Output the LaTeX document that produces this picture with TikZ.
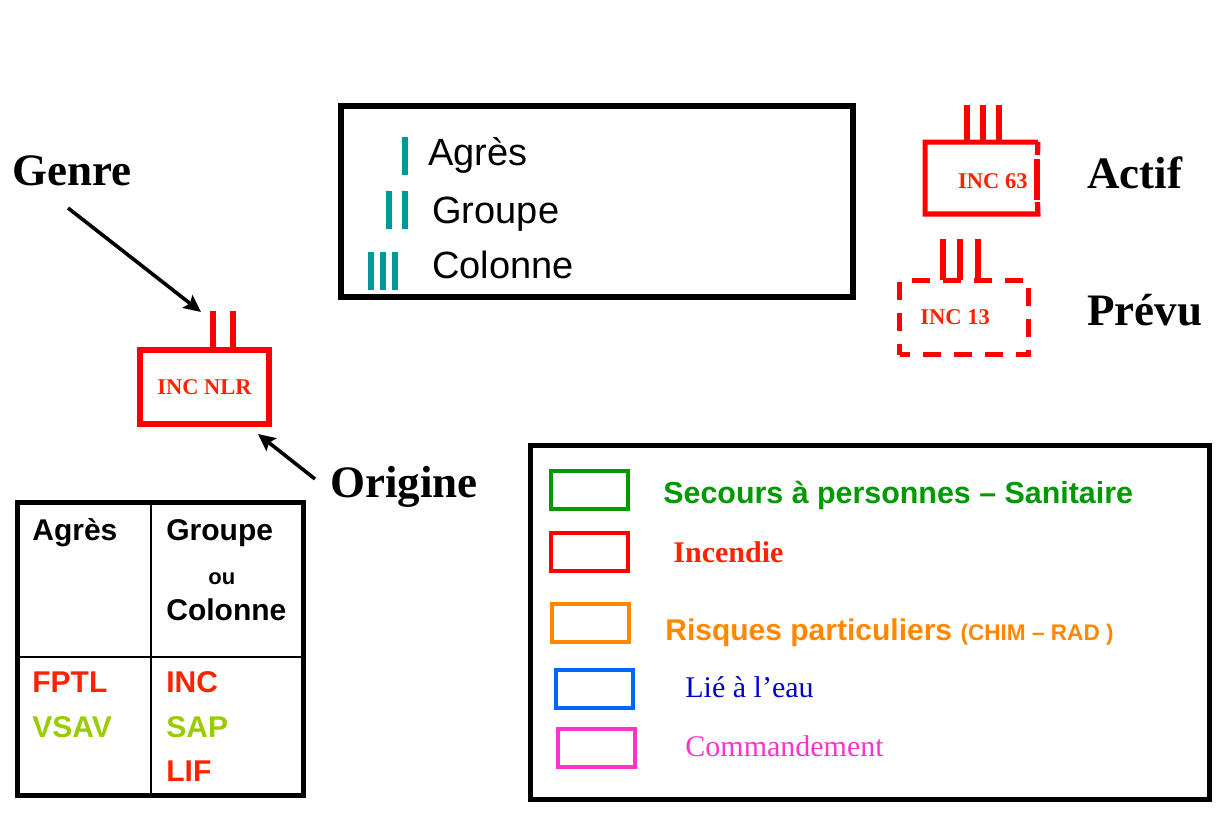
\documentclass[tikz,border=0pt]{standalone}
\usepackage{fontspec}
\setmainfont{Liberation Serif}
\setsansfont{Liberation Sans}
\usetikzlibrary{arrows.meta}
\definecolor{tealbar}{HTML}{009999}
\definecolor{incred}{HTML}{FF2200}
\definecolor{boxred}{HTML}{FF0000}
\definecolor{sapgreen}{HTML}{009900}
\definecolor{ygreen}{HTML}{99CC00}
\definecolor{orng}{HTML}{FF8800}
\definecolor{bluebox}{HTML}{0066FF}
\definecolor{bluetext}{HTML}{0000CC}
\definecolor{pinkc}{HTML}{FF33CC}
\begin{document}
\begin{tikzpicture}[x=0.5pt,y=-0.5pt,
  lbl/.style={inner sep=0pt, anchor=base west},
  bigword/.style={lbl, font=\bfseries\fontsize{22.5}{26}\selectfont},
  legtext/.style={lbl, font=\sffamily\fontsize{19}{22}\selectfont},
  tabtext/.style={lbl, font=\sffamily\bfseries\fontsize{15}{18}\selectfont},
  unitlabel/.style={inner sep=0pt, font=\bfseries\fontsize{11.25}{13}\selectfont, text=incred},
  tealstroke/.style={draw=tealbar, line width=2.8pt},
  redstroke/.style={draw=boxred, line width=2.8pt},
  frame/.style={draw=black, line width=2.6pt},
  pointer/.style={draw=black, line width=1.8pt, -{Stealth[length=8.5pt,width=8pt,inset=1.5pt]}},
  colbox/.style={line width=2pt, minimum width=38.5pt, minimum height=19pt, inner sep=0pt}
]
\useasboundingbox (0,0) rectangle (1228,815);
\fill[white] (0,0) rectangle (1228,815);

% ---- Legend of sizes ----
\node[frame, minimum width=256pt, minimum height=95.5pt, inner sep=0pt] (sizes) at (597,201.5) {};
\node[legtext] (tagres) at (428,165) {Agrès};
\node[legtext] (tgroupe) at (432,223) {Groupe};
\node[legtext] (tcolonne) at (432,278) {Colonne};
\draw[tealstroke] (405,137) -- (405,175);
\draw[tealstroke] (389,191) -- (389,229);
\draw[tealstroke] (405,191) -- (405,229);
\draw[tealstroke] (371,252) -- (371,290);
\draw[tealstroke] (383,252) -- (383,290);
\draw[tealstroke] (395,252) -- (395,290);

% ---- Example unit ----
\node[draw=boxred, line width=3pt, minimum width=64.5pt, minimum height=37pt, unitlabel] (nlr) at (204.5,387) {INC NLR};
\draw[redstroke, line width=3pt] (213,311) -- (213,350);
\draw[redstroke, line width=3pt] (233,311) -- (233,350);

\node[bigword] (genre) at (12,185) {Genre};
\node[bigword] (origine) at (330,497) {Origine};
\coordinate (gtail) at (68,208);
\coordinate (gtip) at (201,312);
\coordinate (otail) at (315,479);
\coordinate (otip) at (258,434);
\draw[pointer] (gtail) -- (gtip);
\draw[pointer] (otail) -- (otip);

% ---- Actif ----
\node[minimum width=56pt, minimum height=35.5pt, inner sep=0pt] (actif) at (981.5,178) {};
\draw[redstroke, line width=2.6pt] (actif.north east) -- (actif.north west) -- (actif.south west) -- (actif.south east) -- (1037.5,202);
\draw[redstroke, line width=2.6pt] (1037,199.5) -- (1037,159);
\draw[redstroke, line width=2.6pt] (1037.5,155) -- (actif.north east);
\node[unitlabel, anchor=base east] (inc63) at (1028,188) {INC 63};
\draw[redstroke] (967,105) -- (967,141);
\draw[redstroke] (983,105) -- (983,141);
\draw[redstroke] (999,105) -- (999,141);
\node[bigword] (tactif) at (1087,188) {Actif};

% ---- Prevu ----
\node[draw=boxred, line width=2.6pt, dash pattern=on 9pt off 6.5pt, dash phase=4pt, minimum width=64.5pt, minimum height=37pt, inner sep=0pt] (prevu) at (964,317.5) {};
\node[unitlabel, anchor=base west] (inc13) at (920,324) {INC 13};
\draw[redstroke] (943,239) -- (943,280);
\draw[redstroke] (960,239) -- (960,280);
\draw[redstroke] (978,239) -- (978,280);
\node[bigword] (tprevu) at (1087,325) {Prévu};

% ---- Table ----
\node[draw=black, line width=2.5pt, minimum width=143pt, minimum height=146.5pt, inner sep=0pt] (table) at (160.5,649) {};
\draw[line width=1pt] (151,502.5) -- (151,795.5);
\draw[line width=1pt] (17.5,657) -- (303.5,657);
\node[tabtext] (hagres) at (32,540) {Agrès};
\node[tabtext] (hgroupe) at (166,540) {Groupe};
\node[lbl, font=\sffamily\bfseries\fontsize{11}{13}\selectfont] (hou) at (208,584) {ou};
\node[tabtext] (hcolonne) at (166,620) {Colonne};
\node[tabtext, text=incred] (fptl) at (32,692) {FPTL};
\node[tabtext, text=ygreen] (vsav) at (32,737) {VSAV};
\node[tabtext, text=incred] (cinc) at (166,692) {INC};
\node[tabtext, text=ygreen] (csap) at (166,737) {SAP};
\node[tabtext, text=incred] (clif) at (166,781) {LIF};

% ---- Colour legend ----
\node[draw=black, line width=2.5pt, minimum width=339.5pt, minimum height=177pt, inner sep=0pt] (colours) at (870,622.5) {};
\node[colbox, draw=sapgreen] (bgreen) at (589.5,490) {};
\node[colbox, draw=boxred] (bred) at (589,551.5) {};
\node[colbox, draw=orng] (borange) at (590.5,622.5) {};
\node[colbox, draw=bluebox] (bblue) at (594,688.5) {};
\node[colbox, draw=pinkc] (bpink) at (596,747.5) {};
\node[lbl, font=\sffamily\bfseries\fontsize{15.2}{18}\selectfont, text=sapgreen] (tsap) at (663,503) {Secours à personnes – Sanitaire};
\node[lbl, font=\bfseries\fontsize{15}{18}\selectfont, text=incred] (tinc) at (673,562) {Incendie};
\node[lbl, font=\sffamily\bfseries\fontsize{15}{18}\selectfont, text=orng] (trisk) at (665,640) {Risques particuliers {\fontsize{11.3}{13}\selectfont(CHIM – RAD )}};
\node[lbl, font=\fontsize{15}{18}\selectfont, text=bluetext] (teau) at (685,697) {Lié à l’eau};
\node[lbl, font=\fontsize{15}{18}\selectfont, text=pinkc] (tcmd) at (685,756) {Commandement};
\end{tikzpicture}
\end{document}
